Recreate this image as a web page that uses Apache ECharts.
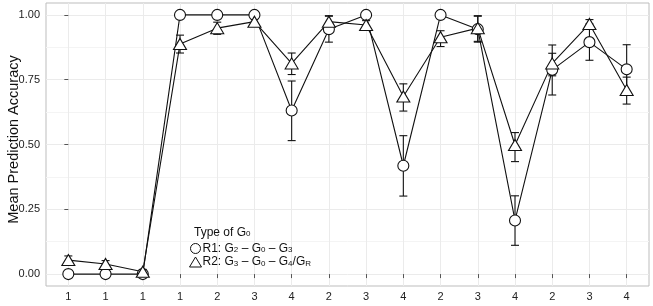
<!DOCTYPE html>
<html>
<head>
<meta charset="utf-8">
<script src="https://cdn.jsdelivr.net/npm/echarts@6/dist/echarts.min.js"></script>
<style>
  html, body { margin: 0; padding: 0; background: #fff; }
  #chart { width: 653px; height: 306px; }
</style>
</head>
<body>
<div id="chart"></div>
<script>
// x categories (type index shown under each position)
var xLabels = ['1', '1', '1', '1', '2', '3', '4', '2', '3', '4', '2', '3', '4', '2', '3', '4'];
var yTicks = [0, 0.25, 0.5, 0.75, 1];
var yMinorTicks = [0.125, 0.375, 0.625, 0.875];

// R1: G2 - G0 - G3 (circles)
var r1Mean = [0.00, 0.00, 0.00, 1.00, 1.00, 1.00, 0.631, 0.945, 1.00, 0.418, 1.00, 0.945, 0.207, 0.788, 0.895, 0.79];
var r1Lo   = [0.00, 0.00, 0.00, 1.00, 1.00, 1.00, 0.515, 0.895, 1.00, 0.301, 1.00, 0.895, 0.111, 0.691, 0.825, 0.695];
var r1Hi   = [0.00, 0.00, 0.00, 1.00, 1.00, 1.00, 0.745, 0.995, 1.00, 0.534, 1.00, 0.995, 0.302, 0.884, 0.965, 0.885];

// R2: G3 - G0 - G4/GR (triangles)
var r2Mean = [0.054, 0.039, 0.009, 0.888, 0.949, 0.974, 0.813, 0.974, 0.961, 0.685, 0.914, 0.949, 0.498, 0.813, 0.965, 0.71];
var r2Lo   = [0.035, 0.025, 0.000, 0.853, 0.925, 0.960, 0.770, 0.958, 0.942, 0.629, 0.878, 0.898, 0.434, 0.765, 0.948, 0.656];
var r2Hi   = [0.070, 0.052, 0.018, 0.922, 0.972, 0.988, 0.853, 0.997, 0.978, 0.734, 0.939, 0.997, 0.546, 0.852, 0.982, 0.760];

function pairs(vals) {
    return vals.map(function(v, i) { return [i, v]; });
}

function bars(lo, hi) {
    return lo.map(function(v, i) { return [i, v, hi[i]]; });
}

function errorBar(params, api) {
    var x = api.value(0);
    var lo = api.coord([x, api.value(1)]);
    var hi = api.coord([x, api.value(2)]);
    var half = 4;
    var style = { stroke: '#111', lineWidth: 1.1 };
    return {
        type: 'group',
        children: [
            { type: 'line', shape: { x1: lo[0], y1: lo[1], x2: hi[0], y2: hi[1] }, style: style },
            { type: 'line', shape: { x1: lo[0] - half, y1: lo[1], x2: lo[0] + half, y2: lo[1] }, style: style },
            { type: 'line', shape: { x1: hi[0] - half, y1: hi[1], x2: hi[0] + half, y2: hi[1] }, style: style }
        ]
    };
}

var font = 'Liberation Sans, Arial, Helvetica, sans-serif';
var subRich = {
    t: { fontFamily: font, fontSize: 12, lineHeight: 11, color: '#111', fontWeight: 'normal' },
    s: { fontFamily: font, fontSize: 8, lineHeight: 11, color: '#111', fontWeight: 'normal', verticalAlign: 'bottom', padding: [5, 0, 0, 0] }
};

var chart = echarts.init(document.getElementById('chart'));
chart.setOption({
    animation: false,
    backgroundColor: '#fff',
    title: {
        text: '{t|Type of G}{s|0}',
        left: 189,
        top: 222,
        textStyle: { fontWeight: 'normal', rich: subRich }
    },
    legend: {
        orient: 'vertical',
        left: 184,
        top: 236,
        itemGap: 0,
        itemWidth: 12,
        itemHeight: 10,
        data: ['R1', 'R2'],
        itemStyle: { borderWidth: 1 },
        formatter: function(name) {
            if (name === 'R1') return '{t|R1: G}{s|2}{t| \u2013 G}{s|0}{t| \u2013 G}{s|3}';
            return '{t|R2: G}{s|3}{t| \u2013 G}{s|0}{t| \u2013 G}{s|4}{t|/G}{s|R}';
        },
        textStyle: { padding: [0, 0, 0, -4], rich: subRich }
    },
    grid: {
        left: 46, right: 4, top: 3, bottom: 20,
        outerBoundsMode: 'none',
        containLabel: false,
        show: true, borderColor: '#bdbdbd', borderWidth: 1
    },
    xAxis: {
        type: 'value',
        min: -0.6, max: 15.6,
        axisLine: { show: false },
        axisTick: { show: true, length: 4, lineStyle: { color: '#555' }, customValues: xLabels.map(function(l, i) { return i; }) },
        axisLabel: {
            customValues: xLabels.map(function(l, i) { return i; }),
            formatter: function(v) { return xLabels[Math.round(v)]; },
            color: '#222', fontFamily: font, fontSize: 11, margin: 5
        },
        splitLine: { show: true, lineStyle: { color: '#ebebeb', width: 1 } }
    },
    yAxis: [{
        type: 'value',
        min: -0.046, max: 1.046,
        name: 'Mean Prediction Accuracy',
        nameLocation: 'middle',
        nameGap: 25,
        nameMoveOverlap: false,
        nameTextStyle: { fontFamily: font, fontSize: 14.5, color: '#111', padding: [0, 0, 0, 10] },
        axisLine: { show: false },
        axisTick: { show: true, length: 4, lineStyle: { color: '#555' }, customValues: yTicks },
        axisLabel: {
            customValues: yTicks,
            formatter: function(v) { return v.toFixed(2); },
            color: '#222', fontFamily: font, fontSize: 11, margin: 6
        },
        splitLine: { show: true, lineStyle: { color: '#ebebeb', width: 1 } }
    }, {
        type: 'value',
        min: -0.046, max: 1.046,
        position: 'left',
        axisLine: { show: false },
        axisTick: { show: false, customValues: yMinorTicks },
        axisLabel: { show: false, customValues: yMinorTicks },
        splitLine: { show: true, lineStyle: { color: '#f4f4f4', width: 1 } }
    }],
    series: [
        { name: 'err1', type: 'custom', renderItem: errorBar, data: bars(r1Lo, r1Hi), z: 2 },
        { name: 'err2', type: 'custom', renderItem: errorBar, data: bars(r2Lo, r2Hi), z: 2 },
        { name: 'line1', type: 'line', data: pairs(r1Mean), showSymbol: false, z: 3,
          lineStyle: { color: '#111', width: 1.1 } },
        { name: 'line2', type: 'line', data: pairs(r2Mean), showSymbol: false, z: 3,
          lineStyle: { color: '#111', width: 1.1 } },
        { name: 'R1', type: 'scatter', data: pairs(r1Mean), symbol: 'circle', symbolSize: 11, z: 4,
          itemStyle: { color: '#fff', borderColor: '#111', borderWidth: 1.1, opacity: 1 } },
        { name: 'R2', type: 'scatter', data: pairs(r2Mean), symbol: 'triangle', symbolSize: [13, 11], z: 4,
          itemStyle: { color: '#fff', borderColor: '#111', borderWidth: 1.1, opacity: 1 } }
    ]
});
</script>
</body>
</html>
